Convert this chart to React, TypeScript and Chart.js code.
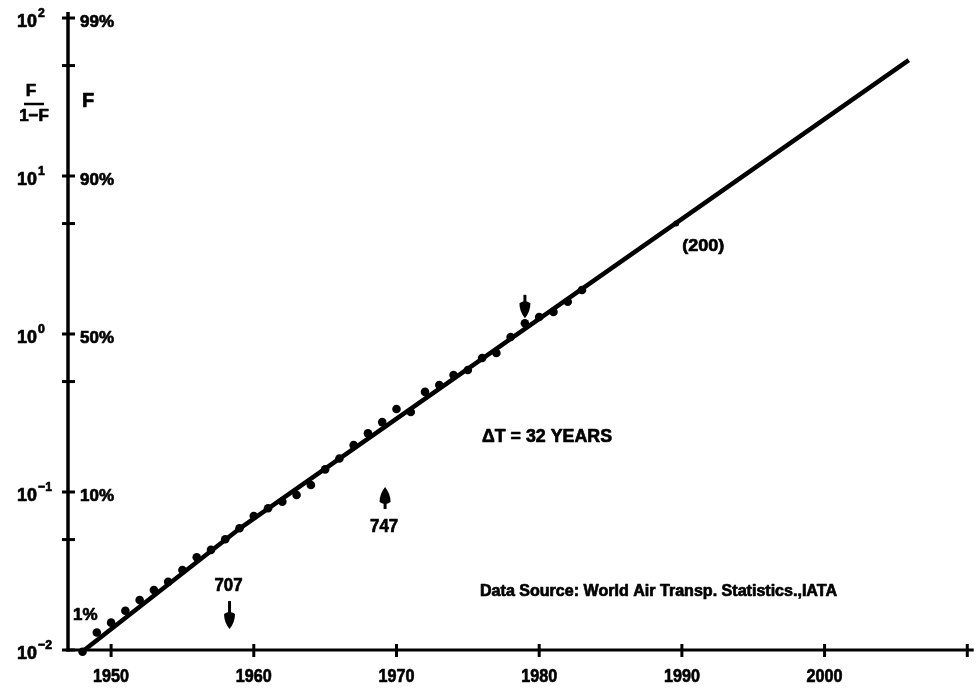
import { useEffect, useRef } from "react";
import { Chart, registerables } from "chart.js";

Chart.register(...registerables);

// Annual observations 1948–1983, market share F plotted as F/(1−F)
const years = [
  1948, 1949, 1950, 1951, 1952, 1953, 1954, 1955, 1956, 1957, 1958, 1959,
  1960, 1961, 1962, 1963, 1964, 1965, 1966, 1967, 1968, 1969, 1970, 1971,
  1972, 1973, 1974, 1975, 1976, 1977, 1978, 1979, 1980, 1981, 1982, 1983,
];
const ratios = [
  0.00975, 0.0129, 0.0149, 0.0177, 0.0207, 0.024, 0.027, 0.0321, 0.0386, 0.043, 0.0502, 0.0589,
  0.0705, 0.0789, 0.0869, 0.0957, 0.1107, 0.139, 0.163, 0.198, 0.235, 0.277, 0.335, 0.321,
  0.43, 0.475, 0.55, 0.592, 0.705, 0.758, 0.957, 1.17, 1.28, 1.38, 1.6, 1.9,
];

// Logistic trend drawn through the observations and extended to 2006
const trendYears = [1947.95, 1959.15, 2005.9];
const trendRatios = [0.0097, 0.06, 54.2];

// Marked point on the trend
const markYears = [1989.6];
const markRatios = [5.0];
const markLabels = ["(200)"];

// Axis ticks
const xTickYears = [1950, 1960, 1970, 1980, 1990, 2000, 2010];
const xTickLabels = ["1950", "1960", "1970", "1980", "1990", "2000", ""];
const decadeTicks = [0.01, 0.1, 1, 10, 100];
const decadeExponents = ["\u22122", "\u22121", "0", "1", "2"];
const halfDecadeTicks = [0.05, 0.5, 5, 50];
const shareTicks = [100, 10, 1, 0.1, 0.01];
const shareLabels = ["99%", "90%", "50%", "10%", "1%"];

// Aircraft introductions
const arrowYears = [1958.3, 1969.2, 1979];
const arrowFrom = [0.0204, 0.078, 1.77];
const arrowTo = [0.0136, 0.1076, 1.26];
const arrowLabels = ["707", "747", ""];
const arrowLabelRatios = [0.0258, 0.061, 0];

const FONT = "'Liberation Sans Narrow', 'Liberation Sans', Arial, sans-serif";
const INK = "#000";

function textScale(ctx: CanvasRenderingContext2D, text: string, size: number, width: number) {
  ctx.font = `bold ${size}px ${FONT}`;
  return width / ctx.measureText(text).width;
}

// Draws heavy bold text whose caps are vertically centred on cy, squeezed horizontally by sx
function drawText(
  ctx: CanvasRenderingContext2D,
  text: string,
  x: number,
  cy: number,
  size: number,
  align: CanvasTextAlign,
  sx: number
) {
  ctx.save();
  ctx.font = `bold ${size}px ${FONT}`;
  ctx.fillStyle = INK;
  ctx.strokeStyle = INK;
  ctx.lineWidth = 0.7;
  ctx.lineJoin = "round";
  ctx.textAlign = align;
  ctx.textBaseline = "alphabetic";
  ctx.translate(x, cy + size * 0.36);
  ctx.scale(sx, 1);
  ctx.fillText(text, 0, 0);
  ctx.strokeText(text, 0, 0);
  ctx.restore();
}

function fitText(
  ctx: CanvasRenderingContext2D,
  text: string,
  x: number,
  cy: number,
  size: number,
  align: CanvasTextAlign,
  width: number
) {
  drawText(ctx, text, x, cy, size, align, textScale(ctx, text, size, width));
}

function drawArrow(ctx: CanvasRenderingContext2D, x: number, yTail: number, yTip: number) {
  const dir = Math.sign(yTip - yTail);
  const len = 15;
  const w = 11;
  ctx.save();
  ctx.strokeStyle = INK;
  ctx.fillStyle = INK;
  ctx.lineWidth = 3;
  ctx.beginPath();
  ctx.moveTo(x, yTail);
  ctx.lineTo(x, yTip - dir * len * 0.7);
  ctx.stroke();
  const back = yTip - dir * len;
  ctx.beginPath();
  ctx.moveTo(x, yTip);
  ctx.quadraticCurveTo(x - w / 2, yTip - dir * len * 0.45, x - w / 2, back);
  ctx.quadraticCurveTo(x, back - dir * 4, x + w / 2, back);
  ctx.quadraticCurveTo(x + w / 2, yTip - dir * len * 0.45, x, yTip);
  ctx.fill();
  ctx.restore();
}

const axesPlugin = {
  id: "fisherPryAxes",
  beforeDatasetsDraw(chart: Chart) {
    const ctx = chart.ctx;
    const { left, right, top, bottom } = chart.chartArea;
    const xs = chart.scales.x;
    const ys = chart.scales.y;
    ctx.save();
    ctx.strokeStyle = INK;
    ctx.lineCap = "butt";
    ctx.lineWidth = 3.5;
    ctx.beginPath();
    ctx.moveTo(left, top);
    ctx.lineTo(left, bottom + 1.5);
    ctx.stroke();
    ctx.lineWidth = 3;
    ctx.beginPath();
    ctx.moveTo(left - 1.5, bottom);
    ctx.lineTo(right, bottom);
    ctx.stroke();

    ctx.lineWidth = 3;
    [...decadeTicks, ...halfDecadeTicks].forEach((v) => {
      const y = ys.getPixelForValue(v);
      ctx.beginPath();
      ctx.moveTo(left - 6, y);
      ctx.lineTo(left + 7, y);
      ctx.stroke();
    });
    xTickYears.forEach((yr) => {
      const x = xs.getPixelForValue(yr);
      ctx.beginPath();
      ctx.moveTo(x, bottom - 6);
      ctx.lineTo(x, bottom + 7);
      ctx.stroke();
    });
    ctx.restore();
  },
  afterDatasetsDraw(chart: Chart) {
    const ctx = chart.ctx;
    const { left } = chart.chartArea;
    const xs = chart.scales.x;
    const ys = chart.scales.y;

    // year labels
    xTickYears.forEach((yr, i) => {
      if (!xTickLabels[i]) return;
      fitText(ctx, xTickLabels[i], xs.getPixelForValue(yr), 675, 19, "center", 36);
    });

    // powers of ten on the left
    const sx10 = textScale(ctx, "10", 19, 20);
    decadeTicks.forEach((v, i) => {
      const y = ys.getPixelForValue(v);
      drawText(ctx, "10", 17, y + 2, 19, "left", sx10);
      drawText(ctx, decadeExponents[i], 38, y - 6, 13, "left", sx10);
    });

    // share F on the right of the axis
    const sxPct = textScale(ctx, "99%", 17, 34);
    shareTicks.forEach((v, i) => {
      const y = ys.getPixelForValue(v);
      if (shareLabels[i] === "1%") {
        drawText(ctx, shareLabels[i], left + 5, y - 36, 17, "left", sxPct);
      } else {
        drawText(ctx, shareLabels[i], left + 12, y + 3, 17, "left", sxPct);
      }
    });

    // axis titles
    drawText(ctx, "F", 31, 90, 17, "center", sxPct);
    ctx.save();
    ctx.strokeStyle = INK;
    ctx.lineWidth = 2.5;
    ctx.beginPath();
    ctx.moveTo(24, 104);
    ctx.lineTo(44, 104);
    ctx.stroke();
    ctx.restore();
    drawText(ctx, "1\u2212F", 34, 115, 17, "center", sxPct);
    drawText(ctx, "F", left + 20, 100, 20, "center", sxPct);

    // aircraft arrows
    arrowYears.forEach((yr, i) => {
      const x = xs.getPixelForValue(yr);
      drawArrow(ctx, x, ys.getPixelForValue(arrowFrom[i]), ys.getPixelForValue(arrowTo[i]));
      if (arrowLabels[i]) {
        fitText(ctx, arrowLabels[i], x - 1, ys.getPixelForValue(arrowLabelRatios[i]), 18, "center", 28);
      }
    });

    // trend annotations
    markYears.forEach((yr, i) => {
      const x = xs.getPixelForValue(yr);
      const y = ys.getPixelForValue(markRatios[i]);
      fitText(ctx, markLabels[i], x + 6, y + 21, 17, "left", 42);
    });
    fitText(ctx, "\u0394T = 32 YEARS", 482, 436, 18, "left", 130);
    fitText(ctx, "Data Source: World Air Transp. Statistics.,IATA", 480, 590, 16, "left", 357);
  },
};

export default function App() {
  const ref = useRef<HTMLCanvasElement>(null);

  useEffect(() => {
    if (!ref.current) return;
    const chart = new Chart(ref.current, {
      type: "scatter",
      data: {
        datasets: [
          {
            data: trendYears.map((x, i) => ({ x, y: trendRatios[i] })),
            showLine: true,
            borderColor: INK,
            borderWidth: 4.5,
            borderJoinStyle: "round",
            pointRadius: 0,
            clip: false,
          },
          {
            data: years.map((x, i) => ({ x, y: ratios[i] })),
            backgroundColor: INK,
            borderWidth: 0,
            pointRadius: 4.3,
            clip: false,
          },
          {
            data: markYears.map((x, i) => ({ x, y: markRatios[i] })),
            backgroundColor: INK,
            borderWidth: 0,
            pointRadius: 3,
            clip: false,
          },
        ],
      },
      options: {
        animation: false,
        responsive: false,
        maintainAspectRatio: false,
        devicePixelRatio: 1,
        layout: { padding: { left: 0, right: 3, top: 12, bottom: 0 } },
        plugins: { legend: { display: false }, tooltip: { enabled: false } },
        scales: {
          x: {
            type: "linear",
            min: 1946.98,
            max: 2010.45,
            grid: { display: false },
            border: { display: false },
            ticks: { display: false },
            afterFit: (s: any) => {
              s.height = 40;
            },
          },
          y: {
            type: "logarithmic",
            min: 0.01,
            max: Math.pow(10, 2.038),
            grid: { display: false },
            border: { display: false },
            ticks: { display: false },
            afterFit: (s: any) => {
              s.width = 68;
            },
          },
        },
      },
      plugins: [axesPlugin],
    });
    return () => chart.destroy();
  }, []);

  return (
    <div style={{ position: "fixed", left: 0, top: 0, width: 978, height: 690, background: "#fff" }}>
      <canvas ref={ref} width={978} height={690} style={{ display: "block" }} />
    </div>
  );
}
